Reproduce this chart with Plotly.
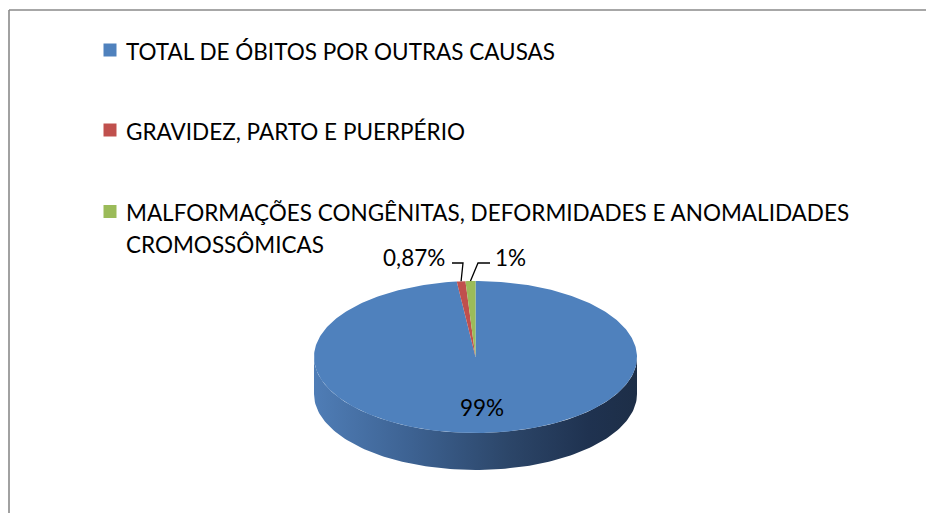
import math
import plotly.graph_objects as go

# ---- data ----
categories = [
    "TOTAL DE ÓBITOS POR OUTRAS CAUSAS",
    "GRAVIDEZ, PARTO E PUERPÉRIO",
    "MALFORMAÇÕES CONGÊNITAS, DEFORMIDADES E ANOMALIDADES<br>CROMOSSÔMICAS",
]
values = [99, 0.87, 1]
colors = ["#4f81bd", "#c0504d", "#9bbb59"]

FONT = "Lato"
FS = 22.5

# ---- geometry of the tilted pie (pixel space) ----
W, H = 926, 513
cx, cy = 475.5, 357.0
rx, ry = 161.5, 76.0
depth = 37.0

def pt(theta_deg, r=1.0, dy=0.0):
    t = math.radians(theta_deg)
    return cx + rx * r * math.sin(t), cy - ry * r * math.cos(t) + dy

def fmt_pct(v):
    s = f"{v:.2f}".rstrip("0").rstrip(".")
    return s.replace(".", ",") + "%"

total = sum(values)
angles = []
acc = 0.0
for v in values:
    a0 = acc / total * 360
    acc += v
    a1 = acc / total * 360
    angles.append((a0, a1))

fig = go.Figure()

# side wall (front half, belongs to the big first slice)
n = 120
side_x, side_y = [], []
for i in range(n + 1):
    th = 90 + 180 * i / n
    x, y = pt(th)
    side_x.append(x); side_y.append(y)
for i in range(n + 1):
    th = 270 - 180 * i / n
    x, y = pt(th, dy=depth)
    side_x.append(x); side_y.append(y)
fig.add_trace(go.Scatter(
    x=side_x, y=side_y, mode="lines", fill="toself",
    line=dict(width=0, color="rgba(0,0,0,0)"),
    fillgradient=dict(type="horizontal", colorscale=[
        [0.0, "#4f7db6"], [0.3, "#3d6292"], [0.6, "#2c4669"], [0.85, "#1f3250"], [1.0, "#1d2e47"]]),
    hoverinfo="skip", showlegend=False))

# top surface slices
for (a0, a1), col, cat in zip(angles, colors, categories):
    steps = max(2, int((a1 - a0) / 1.0) + 2)
    xs, ys = [cx], [cy]
    for i in range(steps + 1):
        x, y = pt(a0 + (a1 - a0) * i / steps)
        xs.append(x); ys.append(y)
    xs.append(cx); ys.append(cy)
    fig.add_trace(go.Scatter(
        x=xs, y=ys, mode="lines", fill="toself", fillcolor=col,
        line=dict(width=0, color=col), hoverinfo="skip", showlegend=False,
        name=cat.replace("<br>", " ")))

# data labels
annotations = []
a0, a1 = angles[0]
lx, ly = pt((a0 + a1) / 2, r=0.66)
annotations.append(dict(x=lx, y=ly, text=fmt_pct(values[0]), showarrow=False,
                        font=dict(family=FONT, size=FS, color="#000000"),
                        xanchor="center", yanchor="middle"))
label_pos = [None, (414, 257, 452, 463), (510, 257, 490, 478)]
for k in (1, 2):
    a0, a1 = angles[k]
    tx, ty, hx0, hx1 = label_pos[k]
    ax_, ay_ = pt((a0 + a1) / 2)
    fig.add_trace(go.Scatter(
        x=[hx0, hx1, ax_], y=[263, 263, ay_], mode="lines",
        line=dict(color="#000000", width=1.3), hoverinfo="skip", showlegend=False))
    annotations.append(dict(x=tx, y=ty, text=fmt_pct(values[k]), showarrow=False,
                            font=dict(family=FONT, size=FS, color="#000000"),
                            xanchor="center", yanchor="middle"))

# legend (custom)
shapes = []
leg_y = [50, 130, 211.5]
line_gap = 32
for cat, col, y0 in zip(categories, colors, leg_y):
    shapes.append(dict(type="rect", xref="x", yref="y", x0=103.5, x1=116.5,
                       y0=y0 - 6.5, y1=y0 + 6.5, fillcolor=col, line=dict(width=0)))
    for i, line in enumerate(cat.split("<br>")):
        annotations.append(dict(x=124, y=y0 + i * line_gap + 1, text=line, showarrow=False,
                                font=dict(family=FONT, size=FS, color="#000000"),
                                xanchor="left", yanchor="middle"))

# chart-area border (left and top edges visible)
shapes.append(dict(type="line", xref="x", yref="y", x0=9, x1=9, y0=10, y1=H,
                   line=dict(color="#8a8a8a", width=1.6)))
shapes.append(dict(type="line", xref="x", yref="y", x0=9, x1=W, y0=10, y1=10,
                   line=dict(color="#8a8a8a", width=1.6)))

fig.update_layout(
    width=W, height=H, margin=dict(l=0, r=0, t=0, b=0),
    paper_bgcolor="#ffffff", plot_bgcolor="#ffffff",
    xaxis=dict(range=[0, W], visible=False, fixedrange=True),
    yaxis=dict(range=[H, 0], visible=False, fixedrange=True),
    shapes=shapes, annotations=annotations, showlegend=False,
)

fig.write_html("out.html", config={"displayModeBar": False},
               post_script="document.body.style.margin='0';document.body.style.overflow='hidden';")
